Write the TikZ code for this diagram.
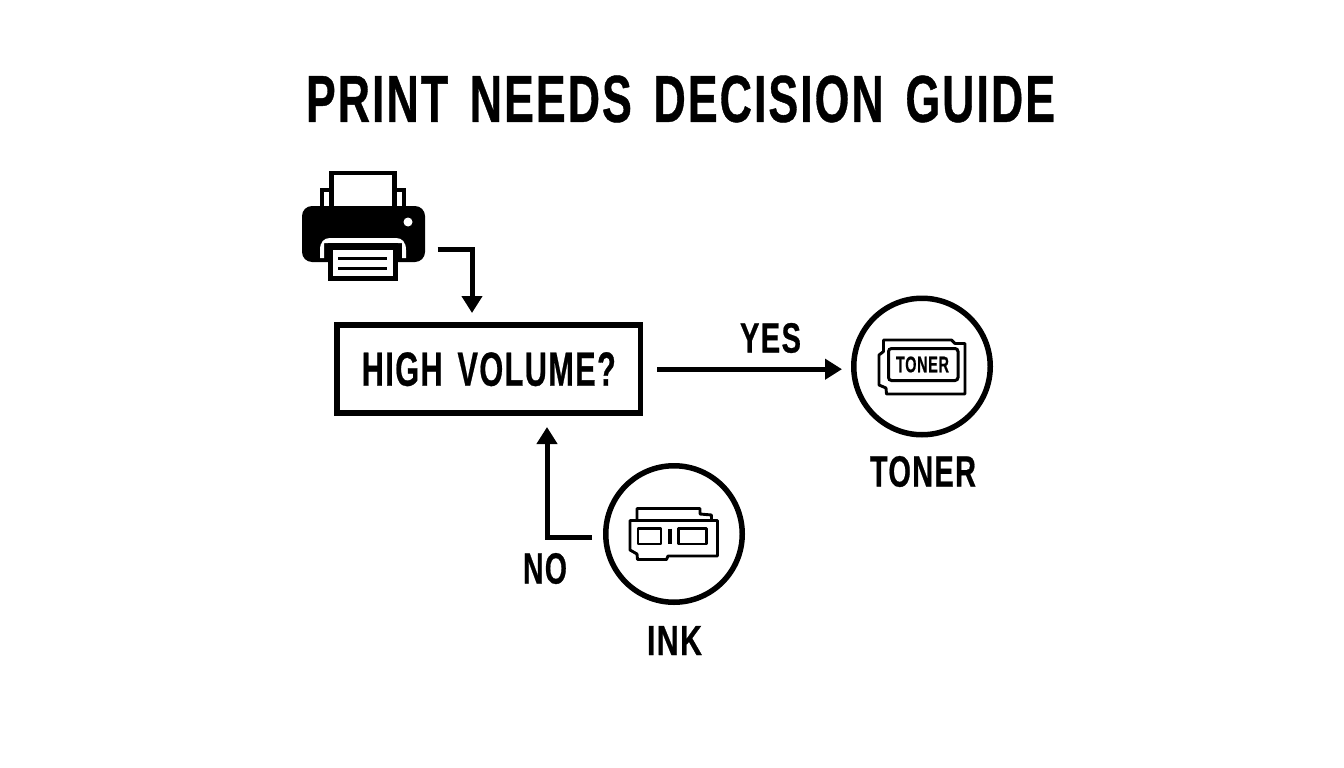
\documentclass[tikz,border=0pt]{standalone}
\usepackage{fontspec}
\setmainfont{Liberation Sans}[LetterSpace=4.5,WordSpace=1.5,BoldFeatures={FakeBold=0.7}]
\usetikzlibrary{arrows.meta}
\newcommand{\fittext}[3]{\resizebox*{#1pt}{#2pt}{\bfseries #3}}
\tikzset{
  txt/.style={inner sep=0pt,outer sep=0pt,text=black},
  conn/.style={draw=black,line width=5pt,-{Triangle[length=17pt,width=20pt]}},
  ring/.style={circle,draw=black,line width=5.5pt,minimum size=136.5pt,inner sep=0pt},
  qbox/.style={rectangle,draw=black,line width=5.5pt,minimum width=303.5pt,minimum height=88pt,inner sep=0pt},
  iconline/.style={draw=black,line width=2.9pt,line join=round},
  trayline/.style={draw=black,line width=4.5pt,fill=white,line join=miter},
}
\begin{document}
\begin{tikzpicture}[x=1pt,y=-1pt]
\useasboundingbox[fill=white] (0,0) rectangle (1344,768);
% title
\node[txt] (title) at (680.5,99) {\fittext{749}{47}{PRINT NEEDS DECISION GUIDE}};
% printer icon
\node[inner sep=0pt,minimum width=123pt,minimum height=110pt] (printer) at (363.5,226) {};
\draw[trayline] (322,208) -- (322,190) -- (404,190) -- (404,208);
\draw[trayline] (331.5,208) -- (331.5,173) -- (394.5,173) -- (394.5,208);
\fill[black,rounded corners=10pt] (302,206) rectangle (425,262);
\fill[white] (408,222) circle (4.5pt);
\fill[white] (320,258) -- (320,250) .. controls (320,242) and (324,238) .. (330,238)
  -- (396,238) .. controls (402,238) and (406,242) .. (406,250) -- (406,258)
  -- (402,258) -- (402,243) -- (324,243) -- (324,258) -- cycle;
\fill[black] (328,243) rectangle (398,281);
\fill[white] (333,250) rectangle (393,276);
\fill[black] (338,256.5) rectangle (387,260);
\fill[black] (338,266.5) rectangle (387,270);
% question box
\node[qbox] (box) at (488.8,369.2) {\fittext{254}{34}{HIGH VOLUME?}};
% toner
\node[ring] (toner) at (922,366.5) {};
\draw[iconline] (883.5,340) -- (951.5,340) -- (955,343.5) -- (965,343.5) -- (965,394) -- (886.5,394) -- (886,388) -- (879,385) -- (879,355) -- (883.5,351.5) -- cycle;
\draw[draw=black,line width=3pt,fill=white,rounded corners=3pt] (888.5,348.5) rectangle (958,380.5);
\node[txt] (tonertext) at (922.5,364.5) {\fittext{53}{16}{TONER}};
\node[txt] (tonerlabel) at (923,471.5) {\fittext{106}{31}{TONER}};
% ink
\node[ring] (ink) at (674,534) {};
\draw[iconline] (637,520.5) -- (637,508.5) -- (700,508.5) -- (700,514) -- (711.5,515) -- (711.5,520.5);
\draw[iconline] (630,520.5) -- (717.5,520.5) -- (717.5,556) -- (668,556) -- (666.5,559.5) -- (637.5,559.5) -- (637,554) -- (630,550) -- cycle;
\draw[iconline] (638,528.5) rectangle (661,544);
\draw[iconline] (678.5,528.5) rectangle (706.5,544);
\draw[line width=3.2pt] (670,528.5) -- (670,544);
\node[txt] (inklabel) at (674.5,640.5) {\fittext{55}{29}{INK}};
% connectors
\coordinate (printerout) at (437.5,249);
\coordinate (boxtop) at (472,322.5);
\draw[conn,shorten >=9.5pt] (printerout) -| (boxtop);
\draw[conn,shorten <=14pt,shorten >=9pt] (box.east) -- (toner.west |- box.east);
\coordinate (inkout) at (592,537);
\coordinate (boxbottom) at (547,415);
\draw[conn,shorten >=12pt] (inkout) -| (boxbottom);
\node[txt] (yes) at (770.5,338) {\fittext{61}{30}{YES}};
\node[txt] (no) at (545,568.5) {\fittext{44}{31}{NO}};
\end{tikzpicture}
\end{document}
